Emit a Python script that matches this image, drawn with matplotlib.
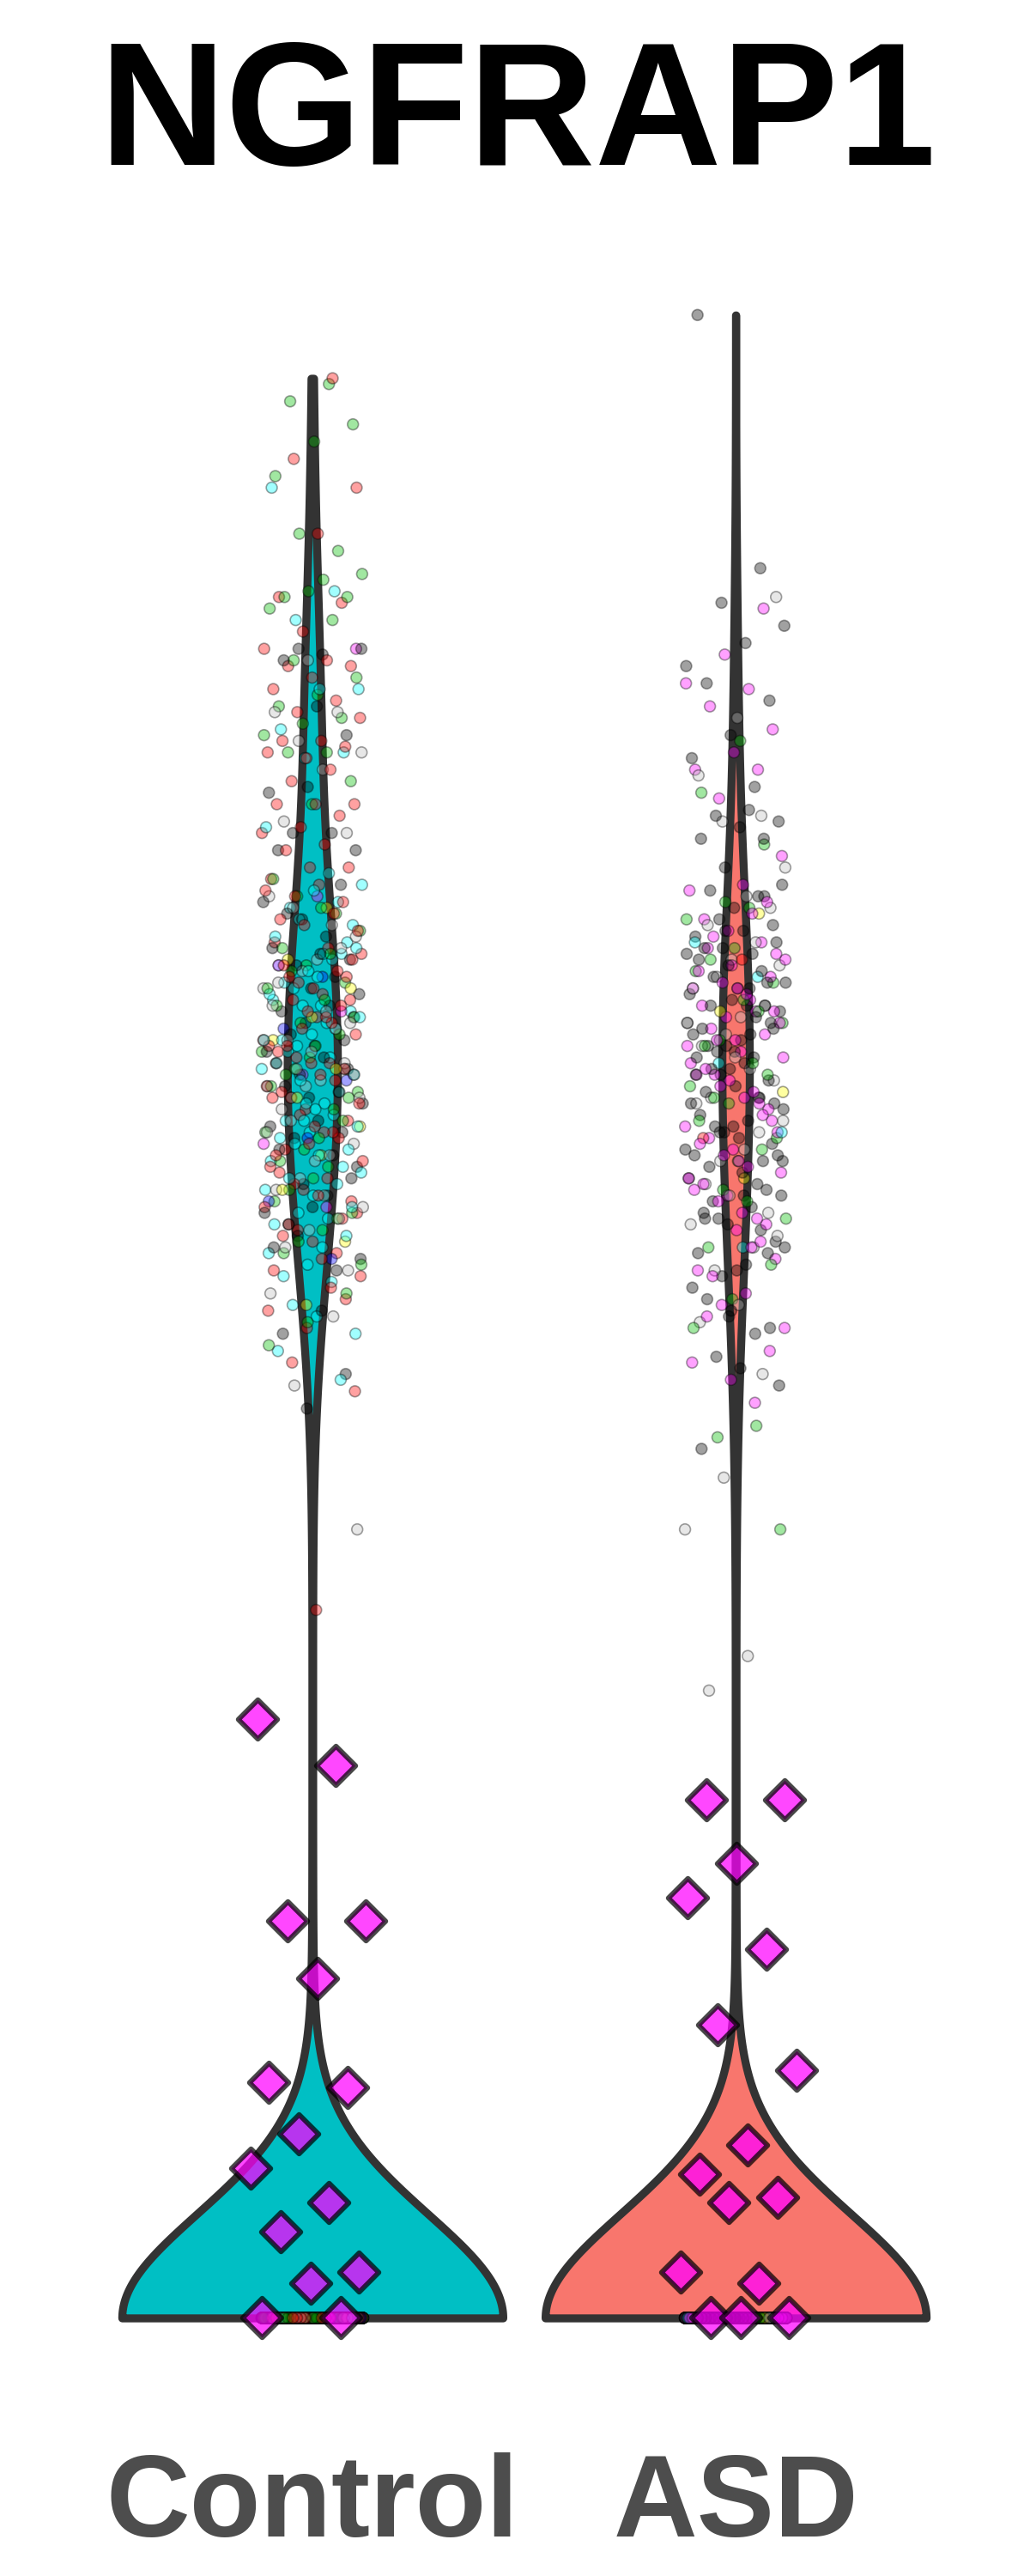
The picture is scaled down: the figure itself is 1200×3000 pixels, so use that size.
import numpy as np
import matplotlib
matplotlib.use("Agg")
import matplotlib.pyplot as plt

plt.rcParams['font.family'] = ['Liberation Sans', 'DejaVu Sans']

# ---------------- data ----------------
title = "NGFRAP1"
groups = ["Control", "ASD"]
violin_fill = ["#00BFC4", "#F8766D"]

# Control: non-zero expression values, per sample colour
ctrl_red = [3.37, 3.23, 3.18, 3.10, 2.99, 2.98, 2.93, 2.90, 2.88, 2.87, 2.87, 2.85, 2.83, 2.81, 2.79,
            2.78, 2.74, 2.74, 2.73, 2.71, 2.72, 2.69, 2.67, 2.63, 2.63, 2.63, 2.61, 2.59, 2.58, 2.56,
            2.55, 2.52, 2.52,
            2.50, 2.44, 2.47, 2.41, 2.49, 2.43, 2.46, 2.42, 2.48,
            2.38, 2.33, 2.36, 2.31, 2.39, 2.34, 2.32, 2.37, 2.30, 2.35, 2.33,
            2.27, 2.21, 2.25, 2.29, 2.23, 2.26, 2.20, 2.28, 2.24, 2.22, 2.26, 2.21, 2.29,
            2.18, 2.12, 2.15, 2.19, 2.11, 2.16, 2.13, 2.17, 2.10, 2.14, 2.18, 2.12, 2.16,
            2.07, 2.02, 2.05, 2.09, 2.01, 2.06, 2.03, 2.08, 2.04, 2.00, 2.06,
            1.97, 1.92, 1.95, 1.99, 1.91, 1.96, 1.93, 1.98, 1.90, 1.94,
            1.87, 1.82, 1.85, 1.89, 1.81, 1.84, 1.88,
            1.77, 1.72, 1.75, 1.79, 1.66, 1.61, 1.23]
ctrl_green = [3.36, 3.33, 3.29, 3.26, 3.20, 3.07, 3.10, 3.03, 3.02, 2.99, 2.99, 3.00, 2.97, 2.95,
              2.88, 2.85, 2.82, 2.80, 2.78, 2.77, 2.75, 2.72, 2.72, 2.67, 2.63,
              2.50, 2.44, 2.47, 2.41, 2.45,
              2.38, 2.32, 2.35, 2.31, 2.37, 2.34,
              2.26, 2.21, 2.28, 2.23, 2.25, 2.20, 2.29,
              2.16, 2.12, 2.19, 2.14, 2.10, 2.17, 2.13,
              2.05, 2.01, 2.08, 2.03, 2.06, 2.00,
              1.96, 1.92, 1.98, 1.94, 1.91,
              1.87, 1.83, 1.89, 1.85, 1.78, 1.73, 1.69]
ctrl_cyan = [3.18, 3.00, 2.95, 2.83, 2.83, 2.76, 2.72, 2.71, 2.59,
             2.51, 2.45, 2.42, 2.48, 2.40, 2.46, 2.43, 2.49,
             2.37, 2.32, 2.39, 2.34, 2.30, 2.36, 2.31, 2.38, 2.33, 2.35, 2.37,
             2.28, 2.22, 2.25, 2.20, 2.27, 2.23, 2.29, 2.24, 2.21, 2.26, 2.28, 2.22,
             2.17, 2.11, 2.14, 2.19, 2.12, 2.16, 2.10, 2.18, 2.13, 2.15, 2.17, 2.11,
             2.08, 2.03, 2.06, 2.01, 2.09, 2.04, 2.07, 2.02, 2.05, 2.00, 2.08,
             1.96, 1.91, 1.98, 1.93, 1.95, 1.90, 1.97, 1.92, 1.99,
             1.86, 1.81, 1.88, 1.83, 1.85, 1.80, 1.76, 1.71, 1.74, 1.68, 1.63]
ctrl_black = [2.90, 2.90, 2.89, 2.88, 2.75, 2.66, 2.65, 2.58, 2.58, 2.55, 2.80, 2.55,
              2.49, 2.43, 2.46, 2.40, 2.44,
              2.36, 2.31, 2.38, 2.33, 2.35, 2.30, 2.37,
              2.27, 2.22, 2.25, 2.20, 2.28, 2.23, 2.26, 2.21,
              2.18, 2.13, 2.16, 2.11, 2.19, 2.14, 2.17, 2.12,
              2.07, 2.02, 2.05, 2.00, 2.08, 2.03, 2.06,
              1.97, 1.92, 1.95, 1.90, 1.98, 1.93,
              1.86, 1.82, 1.88, 1.84, 1.75, 1.71, 1.64, 1.58]
ctrl_gray = [2.79, 2.79, 2.74, 2.72, 2.69, 2.60, 2.58, 2.88,
             2.47, 2.42, 2.45, 2.40,
             2.36, 2.32, 2.38, 2.34, 2.31,
             2.27, 2.22, 2.25, 2.20, 2.28, 2.24,
             2.17, 2.12, 2.15, 2.10, 2.18, 2.14,
             2.06, 2.02, 2.08, 2.04, 2.01,
             1.96, 1.91, 1.98, 1.93, 1.95,
             1.86, 1.82, 1.89, 1.78, 1.74, 1.62, 1.37]
ctrl_yellow = [2.45, 2.36, 2.31, 2.26, 2.22, 2.17, 2.12, 2.07, 2.02, 1.96, 1.87, 1.76]
ctrl_blue = [2.33, 2.24, 2.15, 2.05, 1.94, 1.84]
ctrl_magenta = [2.90, 2.47, 2.35, 2.27, 2.16, 2.04, 1.93]
ctrl_colours = ["red", "green", "cyan", "black", "gray", "yellow", "blue", "magenta"]
ctrl_zero_counts = [330, 250, 300, 220, 170, 60, 30, 90]
ctrl_diamonds = [1.04, 0.96, 0.69, 0.69, 0.59, 0.41, 0.40, 0.32, 0.26, 0.20, 0.15, 0.08, 0.06, 0.0, 0.0]

# ASD: non-zero expression values, per sample colour
asd_black = [3.48, 3.04, 2.98, 2.94, 2.91, 2.84, 2.81, 2.75, 2.71, 2.66, 2.61, 2.60, 2.59, 2.57,
             2.57, 2.52, 2.87, 2.62,
             2.48, 2.42, 2.45, 2.40, 2.47, 2.43, 2.49, 2.41,
             2.38, 2.32, 2.35, 2.30, 2.37, 2.33, 2.39, 2.31, 2.36, 2.34, 2.38, 2.32,
             2.28, 2.21, 2.25, 2.29, 2.23, 2.26, 2.20, 2.27, 2.22, 2.24, 2.28, 2.21, 2.25, 2.23,
             2.17, 2.11, 2.14, 2.19, 2.12, 2.16, 2.10, 2.18, 2.13, 2.15, 2.17, 2.11, 2.19,
             2.07, 2.02, 2.05, 2.09, 2.01, 2.06, 2.03, 2.08, 2.00, 2.04, 2.07, 2.02,
             1.97, 1.91, 1.95, 1.99, 1.92, 1.96, 1.90, 1.98, 1.93, 1.94,
             1.87, 1.82, 1.85, 1.89, 1.81, 1.86, 1.83,
             1.77, 1.72, 1.75, 1.79, 1.71, 1.67, 1.62, 1.65, 1.51,
             2.47, 2.41, 2.37, 2.31, 2.28, 2.24, 2.20, 2.16, 2.12, 2.06, 2.01, 1.95, 1.91, 1.85, 1.74]
asd_magenta = [2.97, 2.89, 2.84, 2.83, 2.80, 2.76, 2.72, 2.69, 2.69, 2.64, 2.54,
               2.49, 2.43, 2.46, 2.41, 2.48, 2.44, 2.40,
               2.37, 2.31, 2.34, 2.39, 2.32, 2.36, 2.30, 2.38, 2.33, 2.35, 2.31,
               2.27, 2.22, 2.25, 2.20, 2.28, 2.23, 2.26, 2.21, 2.29, 2.24, 2.27, 2.22,
               2.16, 2.11, 2.14, 2.19, 2.12, 2.17, 2.10, 2.15, 2.18, 2.13, 2.16,
               2.06, 2.01, 2.04, 2.09, 2.02, 2.07, 2.00, 2.05, 2.08, 2.03,
               1.96, 1.91, 1.94, 1.99, 1.92, 1.97, 1.90, 1.95, 1.98,
               1.86, 1.81, 1.84, 1.89, 1.82, 1.87,
               1.76, 1.72, 1.78, 1.74, 1.68, 1.63, 1.66, 1.59]
asd_gray = [2.99, 2.78, 2.68, 2.61, 2.60, 2.52,
            2.47, 2.42, 2.45,
            2.36, 2.31, 2.39, 2.33, 2.35,
            2.26, 2.21, 2.28, 2.23, 2.25,
            2.17, 2.12, 2.15, 2.19, 2.11,
            2.06, 2.01, 2.08, 2.03,
            1.97, 1.92, 1.95, 1.90,
            1.86, 1.82, 1.88, 1.76, 1.73, 1.64,
            1.46, 1.37, 1.15, 1.09]
asd_green = [2.74, 2.65, 2.56,
             2.46, 2.43, 2.45,
             2.36, 2.32, 2.38, 2.34,
             2.27, 2.22, 2.25, 2.29, 2.21,
             2.16, 2.11, 2.14, 2.18, 2.12,
             2.05, 2.01, 2.08, 2.03,
             1.96, 1.91, 1.94, 1.86, 1.83, 1.77, 1.72, 1.55, 1.53, 1.37]
asd_cyan = [2.39, 2.33, 2.18, 2.06, 1.86]
asd_yellow = [2.44, 2.27, 2.13, 1.98]
asd_red = [2.36, 2.05]
asd_colours = ["black", "magenta", "gray", "green", "cyan", "yellow", "red"]
asd_zero_counts = [780, 650, 310, 260, 30, 30, 20]
asd_diamonds = [0.90, 0.90, 0.79, 0.73, 0.64, 0.51, 0.43, 0.30, 0.25, 0.21, 0.20, 0.08, 0.06, 0.0, 0.0, 0.0]

# ---------------- style ----------------
palette = {"red": "#FF0000", "green": "#00C000", "cyan": "#00FFFF", "black": "#000000",
           "gray": "#BEBEBE", "yellow": "#FFFF00", "blue": "#0000FF", "magenta": "#FF00FF"}
POINT_ALPHA = 0.37
DIAMOND_ALPHA = 0.72
KDE_BW = 0.18
JIT = 0.12
DJIT = 0.15


def jitter(n, width, phase):
    k = np.arange(1, n + 1)
    return ((k * 0.6180339887 + phase) % 1.0 * 2.0 - 1.0) * width


def shuffle_order(n, phase):
    k = np.arange(n)
    return np.argsort((k * 0.7548776662 + phase) % 1.0)


ctrl_sets = [ctrl_red, ctrl_green, ctrl_cyan, ctrl_black, ctrl_gray, ctrl_yellow, ctrl_blue, ctrl_magenta]
asd_sets = [asd_black, asd_magenta, asd_gray, asd_green, asd_cyan, asd_yellow, asd_red]

group_data = []
for sets, cols, zeros, diam in [(ctrl_sets, ctrl_colours, ctrl_zero_counts, ctrl_diamonds),
                                (asd_sets, asd_colours, asd_zero_counts, asd_diamonds)]:
    vals, cl = [], []
    for v, c, z in zip(sets, cols, zeros):
        vals.extend([0.0] * z + list(v))
        cl.extend([c] * (z + len(v)))
    group_data.append((np.array(vals), cl, np.array(diam)))

fig = plt.figure(figsize=(12, 30), dpi=100)
ax = fig.add_axes([68 / 1200, 0.0613, 1085 / 1200, 0.8553])

all_for_kde = [np.concatenate([v, d]) for v, _, d in group_data]
parts = ax.violinplot(all_for_kde, positions=[1, 2], widths=0.9, showextrema=False,
                      points=1500, bw_method=lambda k: KDE_BW / np.std(k.dataset, ddof=1))
for body, fc in zip(parts['bodies'], violin_fill):
    body.set_facecolor(fc)
    body.set_edgecolor("#333333")
    body.set_linewidth(6.7)
    body.set_alpha(1)
    body.set_joinstyle('round')
    body.set_zorder(1)

for i, (vals, cl, diam) in enumerate(group_data):
    pos = i + 1
    n = len(vals)
    xj = pos + jitter(n, JIT, 0.13 + 0.31 * i)
    order = shuffle_order(n, 0.2 + 0.4 * i)
    fcs = np.array([matplotlib.colors.to_rgba(palette[c], POINT_ALPHA) for c in cl])
    ax.scatter(xj[order], vals[order], s=85, c=fcs[order],
               edgecolors=(0, 0, 0, POINT_ALPHA), linewidths=1.2, zorder=2)
    dx = pos + jitter(len(diam), DJIT, 0.45 + 0.2 * i)
    ax.scatter(dx, diam, s=540, marker='D', facecolors=(1, 0, 1, DIAMOND_ALPHA),
               edgecolors=(0, 0, 0, DIAMOND_ALPHA), linewidths=4.2, zorder=3)

ymax = max(np.max(v) for v in all_for_kde)
ax.set_ylim(-0.05 * ymax, 1.05 * ymax)
ax.set_xlim(0.4, 2.6)
ax.set_xticks([1, 2])
ax.set_xticklabels(groups, fontsize=97.5, fontweight='bold', color='#4D4D4D', va='baseline')
ax.tick_params(axis='x', length=0, pad=99.4)
ax.set_yticks([])
for sp in ax.spines.values():
    sp.set_visible(False)

fig.text(0.5025, 1 - 192 / 3000, title, ha='center', va='baseline', fontsize=147,
         fontweight='bold', color='black')

fig.savefig("out.png", dpi=100, facecolor='white')
